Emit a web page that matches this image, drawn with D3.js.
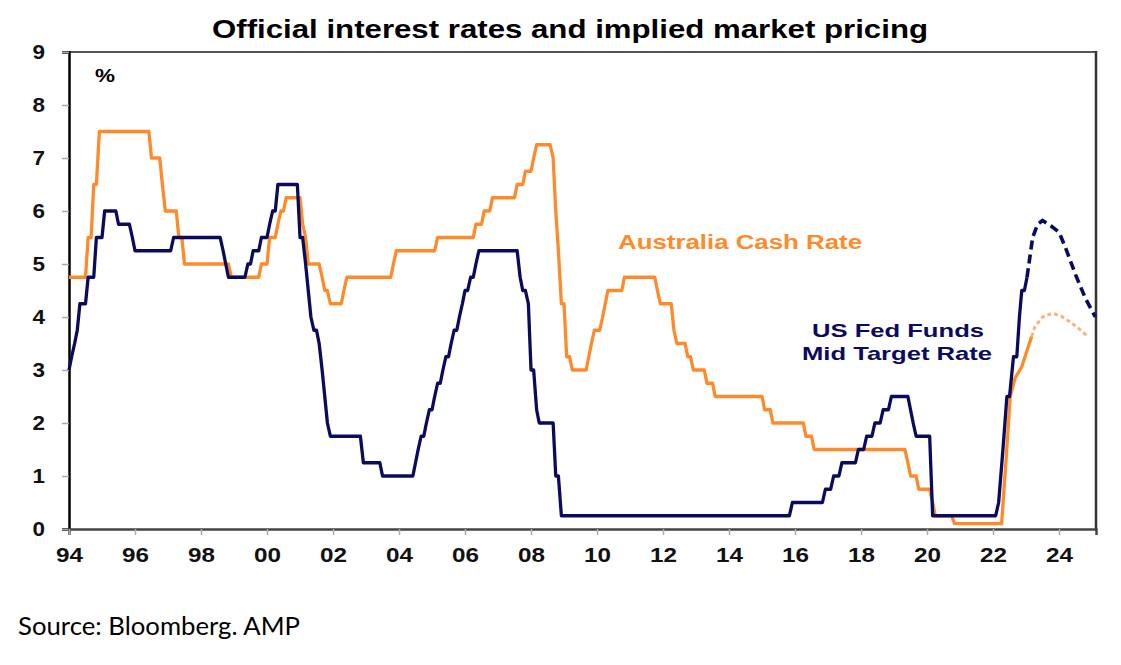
<!DOCTYPE html>
<html>
<head>
<meta charset="utf-8">
<script src="https://cdn.jsdelivr.net/npm/d3@7"></script>
<style>
  body { margin: 0; background: #fff; }
  svg text { font-family: "Liberation Sans", Arial, sans-serif; }
</style>
</head>
<body>
<script>
// chart values (decimal year, rate %)
var ausCash = [
  [1994.0, 4.75], [1994.5, 4.75], [1994.58, 5.5], [1994.67, 5.5], [1994.75, 6.5],
  [1994.83, 6.5], [1994.92, 7.5], [1996.42, 7.5], [1996.5, 7.0], [1996.75, 7.0],
  [1996.83, 6.5], [1996.92, 6.0], [1997.25, 6.0], [1997.33, 5.5], [1997.42, 5.5],
  [1997.5, 5.0], [1998.83, 5.0], [1998.92, 4.75], [1999.75, 4.75], [1999.83, 5.0],
  [2000.0, 5.0], [2000.08, 5.5], [2000.25, 5.5], [2000.33, 5.75], [2000.42, 6.0],
  [2000.5, 6.0], [2000.58, 6.25], [2001.0, 6.25], [2001.08, 5.75], [2001.17, 5.5],
  [2001.25, 5.0], [2001.58, 5.0], [2001.67, 4.75], [2001.75, 4.5], [2001.83, 4.5],
  [2001.92, 4.25], [2002.25, 4.25], [2002.33, 4.5], [2002.42, 4.75], [2003.75, 4.75],
  [2003.83, 5.0], [2003.92, 5.25], [2005.08, 5.25], [2005.17, 5.5], [2006.25, 5.5],
  [2006.33, 5.75], [2006.5, 5.75], [2006.58, 6.0], [2006.75, 6.0], [2006.83, 6.25],
  [2007.5, 6.25], [2007.58, 6.5], [2007.75, 6.5], [2007.83, 6.75], [2008.0, 6.75],
  [2008.08, 7.0], [2008.17, 7.25], [2008.58, 7.25], [2008.67, 7.0], [2008.75, 6.0],
  [2008.83, 5.25], [2008.92, 4.25], [2009.0, 4.25], [2009.08, 3.25], [2009.17, 3.25],
  [2009.25, 3.0], [2009.67, 3.0], [2009.75, 3.25], [2009.83, 3.5], [2009.92, 3.75],
  [2010.08, 3.75], [2010.17, 4.0], [2010.25, 4.25], [2010.33, 4.5], [2010.75, 4.5],
  [2010.83, 4.75], [2011.75, 4.75], [2011.83, 4.5], [2011.92, 4.25], [2012.25, 4.25],
  [2012.33, 3.75], [2012.42, 3.5], [2012.67, 3.5], [2012.75, 3.25], [2012.83, 3.25],
  [2012.92, 3.0], [2013.25, 3.0], [2013.33, 2.75], [2013.5, 2.75], [2013.58, 2.5],
  [2015.0, 2.5], [2015.08, 2.25], [2015.25, 2.25], [2015.33, 2.0], [2016.25, 2.0],
  [2016.33, 1.75], [2016.5, 1.75], [2016.58, 1.5], [2019.33, 1.5], [2019.42, 1.25],
  [2019.5, 1.0], [2019.67, 1.0], [2019.75, 0.75], [2020.08, 0.75], [2020.17, 0.5],
  [2020.25, 0.25], [2020.75, 0.25], [2020.83, 0.1], [2022.26, 0.1], [2022.4, 1.35],
  [2022.52, 2.5], [2022.67, 2.85], [2022.87, 3.06], [2023.02, 3.35], [2023.17, 3.63]
];
var ausPricing = [
  [2023.17, 3.63], [2023.27, 3.82], [2023.5, 4.0], [2023.8, 4.07], [2024.05, 4.02],
  [2024.33, 3.91], [2024.6, 3.78], [2024.88, 3.63]
];
var fedFunds = [
  [1994.0, 3.0], [1994.08, 3.25], [1994.17, 3.5], [1994.25, 3.75], [1994.33, 4.25],
  [1994.5, 4.25], [1994.58, 4.75], [1994.75, 4.75], [1994.83, 5.5], [1995.0, 5.5],
  [1995.08, 6.0], [1995.42, 6.0], [1995.5, 5.75], [1995.83, 5.75], [1995.92, 5.5],
  [1996.0, 5.25], [1997.08, 5.25], [1997.17, 5.5], [1998.58, 5.5], [1998.67, 5.25],
  [1998.75, 5.0], [1998.83, 4.75], [1999.33, 4.75], [1999.42, 5.0], [1999.5, 5.0],
  [1999.58, 5.25], [1999.75, 5.25], [1999.83, 5.5], [2000.0, 5.5], [2000.08, 5.75],
  [2000.17, 6.0], [2000.25, 6.0], [2000.33, 6.5], [2000.92, 6.5], [2001.0, 5.5],
  [2001.08, 5.5], [2001.17, 5.0], [2001.25, 4.5], [2001.33, 4.0], [2001.42, 3.75],
  [2001.5, 3.75], [2001.58, 3.5], [2001.67, 3.0], [2001.75, 2.5], [2001.83, 2.0],
  [2001.92, 1.75], [2002.83, 1.75], [2002.92, 1.25], [2003.42, 1.25], [2003.5, 1.0],
  [2004.42, 1.0], [2004.5, 1.25], [2004.58, 1.5], [2004.67, 1.75], [2004.75, 1.75],
  [2004.83, 2.0], [2004.92, 2.25], [2005.0, 2.25], [2005.08, 2.5], [2005.17, 2.75],
  [2005.25, 2.75], [2005.33, 3.0], [2005.42, 3.25], [2005.5, 3.25], [2005.58, 3.5],
  [2005.67, 3.75], [2005.75, 3.75], [2005.83, 4.0], [2005.92, 4.25], [2006.0, 4.5],
  [2006.08, 4.5], [2006.17, 4.75], [2006.25, 4.75], [2006.33, 5.0], [2006.42, 5.25],
  [2007.58, 5.25], [2007.67, 4.75], [2007.75, 4.5], [2007.83, 4.5], [2007.92, 4.25],
  [2008.0, 3.0], [2008.08, 3.0], [2008.17, 2.25], [2008.25, 2.0], [2008.67, 2.0],
  [2008.75, 1.0], [2008.83, 1.0], [2008.92, 0.25], [2015.83, 0.25], [2015.92, 0.5],
  [2016.83, 0.5], [2016.92, 0.75], [2017.08, 0.75], [2017.17, 1.0], [2017.33, 1.0],
  [2017.42, 1.25], [2017.83, 1.25], [2017.92, 1.5], [2018.08, 1.5], [2018.17, 1.75],
  [2018.33, 1.75], [2018.42, 2.0], [2018.58, 2.0], [2018.67, 2.25], [2018.83, 2.25],
  [2018.92, 2.5], [2019.42, 2.5], [2019.5, 2.25], [2019.58, 2.0], [2019.67, 1.75],
  [2020.08, 1.75], [2020.17, 0.25], [2022.08, 0.25], [2022.17, 0.5], [2022.3, 1.5],
  [2022.42, 2.5], [2022.5, 2.5], [2022.62, 3.25], [2022.72, 3.25], [2022.8, 4.0],
  [2022.87, 4.5], [2022.95, 4.5], [2023.03, 4.75]
];
var fedPricing = [
  [2023.03, 4.75], [2023.2, 5.5], [2023.35, 5.75], [2023.5, 5.82], [2023.75, 5.72],
  [2024.0, 5.6], [2024.2, 5.3], [2024.5, 4.8], [2024.8, 4.35], [2025.1, 4.0]
];
var yTicks = [0, 1, 2, 3, 4, 5, 6, 7, 8, 9];
var xTicks = [1994, 1996, 1998, 2000, 2002, 2004, 2006, 2008, 2010, 2012, 2014, 2016, 2018, 2020, 2022, 2024];

var orange = "#ff8a2a", navy = "#0b0b5e";

var svg = d3.select("body").append("svg")
    .attr("width", 1121)
    .attr("height", 665);

var x = d3.scaleLinear().domain([1994, 2025.12]).range([69, 1096]);
var y = d3.scaleLinear().domain([0, 9]).range([529, 52]);

// the original artwork is stretched sideways, so texts get a fixed width
function wideText(sel, fontSize, width) {
    return sel.style("font-size", fontSize + "px").style("font-weight", "bold")
        .attr("textLength", width).attr("lengthAdjust", "spacingAndGlyphs");
}

// title
wideText(svg.append("text")
    .attr("x", 570).attr("y", 38)
    .attr("text-anchor", "middle")
    .text("Official interest rates and implied market pricing"), 25, 716);

// frame: top + right lines
svg.append("line").attr("x1", 69).attr("x2", 1096).attr("y1", 52).attr("y2", 52)
    .attr("stroke", "#555").attr("stroke-width", 2);
svg.append("line").attr("x1", 1096).attr("x2", 1096).attr("y1", 51).attr("y2", 530)
    .attr("stroke", "#333").attr("stroke-width", 2.5);

// axes
var yAxis = svg.append("g").attr("transform", "translate(69,0)")
    .call(d3.axisLeft(y).tickValues(yTicks).tickSize(7).tickPadding(17).tickFormat(d3.format("d")));
var xAxis = svg.append("g").attr("transform", "translate(0,529)")
    .call(d3.axisBottom(x).tickValues(xTicks).tickSize(6).tickPadding(12)
        .tickFormat(function(d) { return String(d % 100).padStart(2, "0"); }));

yAxis.select(".domain").attr("stroke", "#000").attr("stroke-width", 2.5);
xAxis.select(".domain").attr("stroke", "#444").attr("stroke-width", 2.5);
svg.selectAll(".tick line").attr("stroke", "#aaa").attr("stroke-width", 1.5);
svg.selectAll(".tick text")
    .style("font-family", "'Liberation Sans', Arial, sans-serif").attr("fill", "#111");
wideText(yAxis.selectAll(".tick text"), 20, 12.5);
wideText(xAxis.selectAll(".tick text"), 20.5, 27);

wideText(svg.append("text").attr("x", 95).attr("y", 81.5).text("%"), 19, 20);

var line = d3.line()
    .x(function(d) { return x(d[0]); })
    .y(function(d) { return y(d[1]); });

svg.append("path").datum(ausPricing).attr("d", line)
    .attr("fill", "none").attr("stroke", "#f9b47c").attr("stroke-width", 3)
    .attr("stroke-dasharray", "4,3");
svg.append("path").datum(ausCash).attr("d", line)
    .attr("fill", "none").attr("stroke", orange).attr("stroke-width", 3.3)
    .attr("stroke-linejoin", "round");
svg.append("path").datum(fedPricing).attr("d", line)
    .attr("fill", "none").attr("stroke", navy).attr("stroke-width", 3.6)
    .attr("stroke-dasharray", "9,5");
svg.append("path").datum(fedFunds).attr("d", line)
    .attr("fill", "none").attr("stroke", navy).attr("stroke-width", 3.3)
    .attr("stroke-linejoin", "round");

// series labels
wideText(svg.append("text").attr("x", 618).attr("y", 249)
    .attr("fill", orange).text("Australia Cash Rate"), 19.5, 244);
wideText(svg.append("text").attr("x", 812).attr("y", 337)
    .attr("fill", navy).text("US Fed Funds"), 19, 172);
wideText(svg.append("text").attr("x", 802).attr("y", 360)
    .attr("fill", navy).text("Mid Target Rate"), 19, 190);

// source note
svg.append("text").attr("x", 18).attr("y", 635)
    .style("font-family", "Lato, 'Open Sans', sans-serif").style("font-size", "25px")
    .attr("fill", "#000")
    .attr("textLength", 282).attr("lengthAdjust", "spacingAndGlyphs")
    .text("Source: Bloomberg. AMP");
</script>
</body>
</html>
